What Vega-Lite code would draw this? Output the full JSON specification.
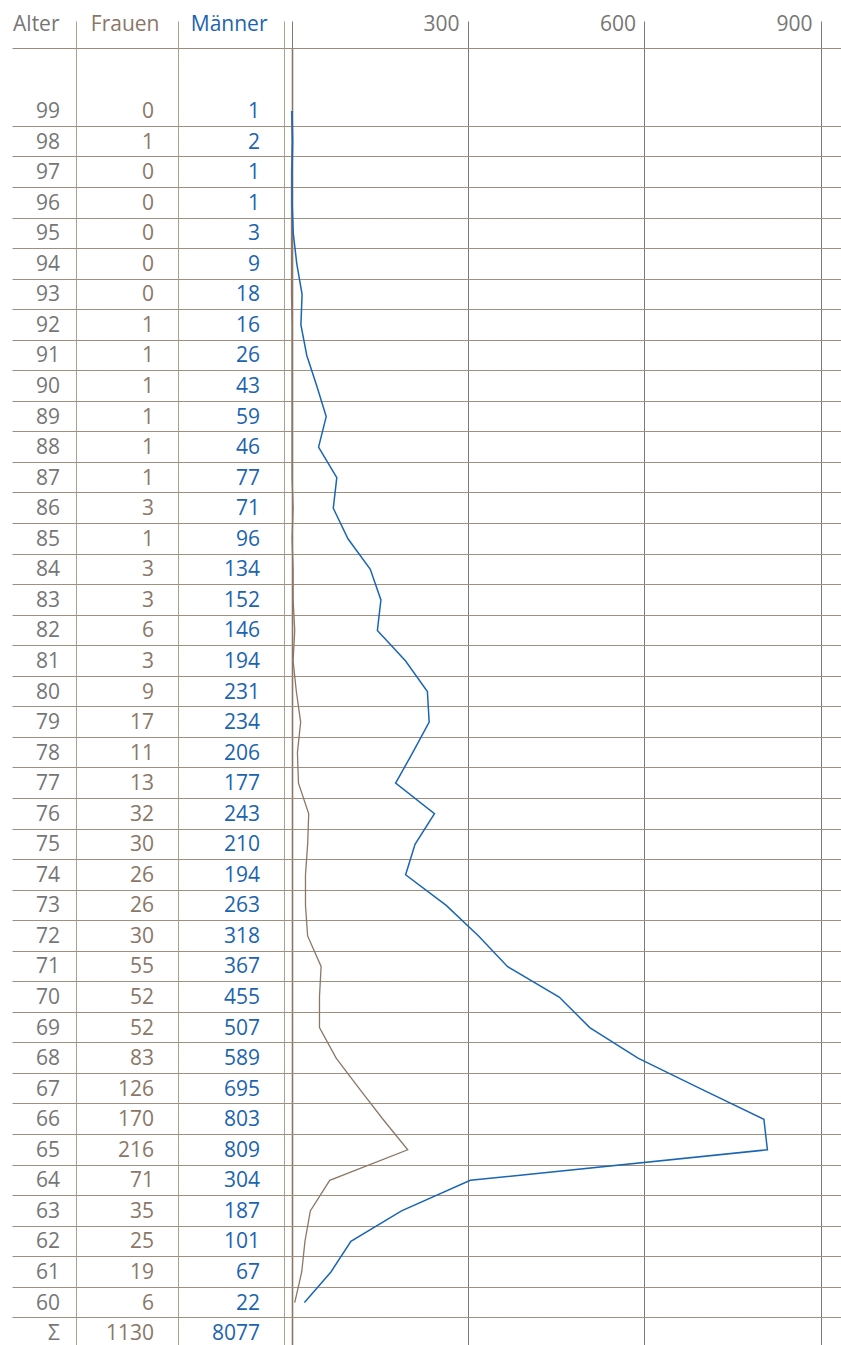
{
  "$schema": "https://vega.github.io/schema/vega-lite/v6.json",
  "background": "white",
  "padding": {"left": 12, "top": 13, "right": 0, "bottom": 0},
  "spacing": 0,
  "bounds": "flush",
  "data": {
    "values": [
      {"Alter": "99", "Frauen": 0, "Männer": 1},
      {"Alter": "98", "Frauen": 1, "Männer": 2},
      {"Alter": "97", "Frauen": 0, "Männer": 1},
      {"Alter": "96", "Frauen": 0, "Männer": 1},
      {"Alter": "95", "Frauen": 0, "Männer": 3},
      {"Alter": "94", "Frauen": 0, "Männer": 9},
      {"Alter": "93", "Frauen": 0, "Männer": 18},
      {"Alter": "92", "Frauen": 1, "Männer": 16},
      {"Alter": "91", "Frauen": 1, "Männer": 26},
      {"Alter": "90", "Frauen": 1, "Männer": 43},
      {"Alter": "89", "Frauen": 1, "Männer": 59},
      {"Alter": "88", "Frauen": 1, "Männer": 46},
      {"Alter": "87", "Frauen": 1, "Männer": 77},
      {"Alter": "86", "Frauen": 3, "Männer": 71},
      {"Alter": "85", "Frauen": 1, "Männer": 96},
      {"Alter": "84", "Frauen": 3, "Männer": 134},
      {"Alter": "83", "Frauen": 3, "Männer": 152},
      {"Alter": "82", "Frauen": 6, "Männer": 146},
      {"Alter": "81", "Frauen": 3, "Männer": 194},
      {"Alter": "80", "Frauen": 9, "Männer": 231},
      {"Alter": "79", "Frauen": 17, "Männer": 234},
      {"Alter": "78", "Frauen": 11, "Männer": 206},
      {"Alter": "77", "Frauen": 13, "Männer": 177},
      {"Alter": "76", "Frauen": 32, "Männer": 243},
      {"Alter": "75", "Frauen": 30, "Männer": 210},
      {"Alter": "74", "Frauen": 26, "Männer": 194},
      {"Alter": "73", "Frauen": 26, "Männer": 263},
      {"Alter": "72", "Frauen": 30, "Männer": 318},
      {"Alter": "71", "Frauen": 55, "Männer": 367},
      {"Alter": "70", "Frauen": 52, "Männer": 455},
      {"Alter": "69", "Frauen": 52, "Männer": 507},
      {"Alter": "68", "Frauen": 83, "Männer": 589},
      {"Alter": "67", "Frauen": 126, "Männer": 695},
      {"Alter": "66", "Frauen": 170, "Männer": 803},
      {"Alter": "65", "Frauen": 216, "Männer": 809},
      {"Alter": "64", "Frauen": 71, "Männer": 304},
      {"Alter": "63", "Frauen": 35, "Männer": 187},
      {"Alter": "62", "Frauen": 25, "Männer": 101},
      {"Alter": "61", "Frauen": 19, "Männer": 67},
      {"Alter": "60", "Frauen": 6, "Männer": 22},
      {"Alter": "Σ", "Frauen": 1130, "Männer": 8077}
    ]
  },
  "config": {
    "font": "Open Sans",
    "view": {"stroke": null},
    "axis": {"minExtent": 0, "labelFont": "Open Sans", "labelFontSize": 21, "labelFlush": false, "labelOverlap": false, "titleFontSize": 1},
    "text": {"fontSize": 21, "font": "Open Sans"}
  },
  "hconcat": [
    {
      "width": 64,
      "height": 1296,
      "mark": {"type": "text", "align": "right", "baseline": "middle", "dx": -16, "dy": 1, "color": "#767676"},
      "encoding": {
        "x": {"datum": 1, "type": "quantitative", "scale": {"domain": [0, 1], "nice": false, "zero": false},
          "axis": {"orient": "top", "title": null, "values": [1], "labelExpr": "'Alter'", "labelAlign": "right", "labelBaseline": "alphabetic", "labelOffset": -17, "labelPadding": -9, "labelColor": "#767676", "tickSize": 27, "tickColor": "#ad9e90", "grid": true, "gridColor": "#ad9e90", "domain": true, "domainColor": "#9d8a7a"}},
        "y": {"field": "Alter", "type": "ordinal",
          "scale": {"type": "band", "domain": ["99","98","97","96","95","94","93","92","91","90","89","88","87","86","85","84","83","82","81","80","79","78","77","76","75","74","73","72","71","70","69","68","67","66","65","64","63","62","61","60","Σ"], "range": [0, 1300.35], "paddingInner": 0, "paddingOuter": 0.7825, "align": 1},
          "axis": {"title": null, "labels": false, "ticks": false, "domain": false, "grid": true, "bandPosition": 1, "gridColor": "#a08e7f"}},
        "text": {"field": "Alter"}
      }
    },
    {
      "width": 102,
      "height": 1296,
      "mark": {"type": "text", "align": "right", "baseline": "middle", "dx": -24, "dy": 1, "color": "#8b7767"},
      "encoding": {
        "x": {"datum": 1, "type": "quantitative", "scale": {"domain": [0, 1], "nice": false, "zero": false},
          "axis": {"orient": "top", "title": null, "values": [1], "labelExpr": "'Frauen'", "labelAlign": "right", "labelBaseline": "alphabetic", "labelOffset": -19, "labelPadding": -9, "labelColor": "#8b7767", "tickSize": 27, "tickColor": "#ad9e90", "grid": true, "gridColor": "#ad9e90", "domain": true, "domainColor": "#9d8a7a"}},
        "y": {"field": "Alter", "type": "ordinal",
          "scale": {"type": "band", "domain": ["99","98","97","96","95","94","93","92","91","90","89","88","87","86","85","84","83","82","81","80","79","78","77","76","75","74","73","72","71","70","69","68","67","66","65","64","63","62","61","60","Σ"], "range": [0, 1300.35], "paddingInner": 0, "paddingOuter": 0.7825, "align": 1},
          "axis": {"title": null, "labels": false, "ticks": false, "domain": false, "grid": true, "bandPosition": 1, "gridColor": "#a08e7f"}},
        "text": {"field": "Frauen", "type": "quantitative", "format": "d"}
      }
    },
    {
      "width": 106,
      "height": 1296,
      "mark": {"type": "text", "align": "right", "baseline": "middle", "dx": -24, "dy": 1, "color": "#1c64ae"},
      "encoding": {
        "x": {"datum": 1, "type": "quantitative", "scale": {"domain": [0, 1], "nice": false, "zero": false},
          "axis": {"orient": "top", "title": null, "values": [1], "labelExpr": "'Männer'", "labelAlign": "right", "labelBaseline": "alphabetic", "labelOffset": -17, "labelPadding": -9, "labelColor": "#1c64ae", "tickSize": 27, "tickColor": "#ad9e90", "grid": true, "gridColor": "#ad9e90", "domain": true, "domainColor": "#9d8a7a"}},
        "y": {"field": "Alter", "type": "ordinal",
          "scale": {"type": "band", "domain": ["99","98","97","96","95","94","93","92","91","90","89","88","87","86","85","84","83","82","81","80","79","78","77","76","75","74","73","72","71","70","69","68","67","66","65","64","63","62","61","60","Σ"], "range": [0, 1300.35], "paddingInner": 0, "paddingOuter": 0.7825, "align": 1},
          "axis": {"title": null, "labels": false, "ticks": false, "domain": false, "grid": true, "bandPosition": 1, "gridColor": "#a08e7f"}},
        "text": {"field": "Männer", "type": "quantitative", "format": "d"}
      }
    },
    {
      "width": 557,
      "height": 1296,
      "transform": [{"filter": "datum.Alter !== 'Σ'"}],
      "layer": [
        {
          "mark": {"type": "line", "color": "#8b7767", "strokeWidth": 1.3},
          "encoding": {
            "x": {"field": "Frauen", "type": "quantitative", "scale": {"domain": [-13.94, 1021.4], "nice": false, "zero": false}, "axis": null},
            "y": {"field": "Alter", "type": "ordinal",
              "scale": {"type": "band", "domain": ["99","98","97","96","95","94","93","92","91","90","89","88","87","86","85","84","83","82","81","80","79","78","77","76","75","74","73","72","71","70","69","68","67","66","65","64","63","62","61","60","Σ"], "range": [0, 1300.35], "paddingInner": 0, "paddingOuter": 0.7825, "align": 1},
              "axis": {"title": null, "labels": false, "ticks": false, "domain": false, "grid": true, "bandPosition": 1, "gridColor": "#a08e7f"}},
            "order": {"field": "Alter", "type": "ordinal"}
          }
        },
        {
          "mark": {"type": "line", "color": "#1a66b3", "strokeWidth": 1.5},
          "encoding": {
            "x": {"field": "Männer", "type": "quantitative", "scale": {"domain": [-12.75, 934.1], "nice": false, "zero": false},
              "axis": {"orient": "top", "title": null, "values": [0, 300, 600, 900], "labelExpr": "datum.value === 0 ? '' : datum.label", "labelAlign": "right", "labelBaseline": "alphabetic", "labelOffset": -9, "labelPadding": -9, "labelColor": "#767676", "tickSize": 27,
                "tickColor": {"condition": {"test": "datum.value === 0", "value": "#8b7767"}, "value": "#7a7a7a"},
                "grid": true,
                "gridColor": {"condition": {"test": "datum.value === 0", "value": "#8b7767"}, "value": "#7a7a7a"},
                "gridWidth": {"condition": {"test": "datum.value === 0", "value": 1.6}, "value": 1},
                "domain": true, "domainColor": "#9d8a7a"}},
            "y": {"field": "Alter", "type": "ordinal",
              "scale": {"type": "band", "domain": ["99","98","97","96","95","94","93","92","91","90","89","88","87","86","85","84","83","82","81","80","79","78","77","76","75","74","73","72","71","70","69","68","67","66","65","64","63","62","61","60","Σ"], "range": [0, 1300.35], "paddingInner": 0, "paddingOuter": 0.7825, "align": 1},
              "axis": {"title": null, "labels": false, "ticks": false, "domain": false, "grid": true, "bandPosition": 1, "gridColor": "#a08e7f"}},
            "order": {"field": "Alter", "type": "ordinal"}
          }
        }
      ],
      "resolve": {"scale": {"x": "independent"}, "axis": {"x": "independent"}}
    }
  ]
}
